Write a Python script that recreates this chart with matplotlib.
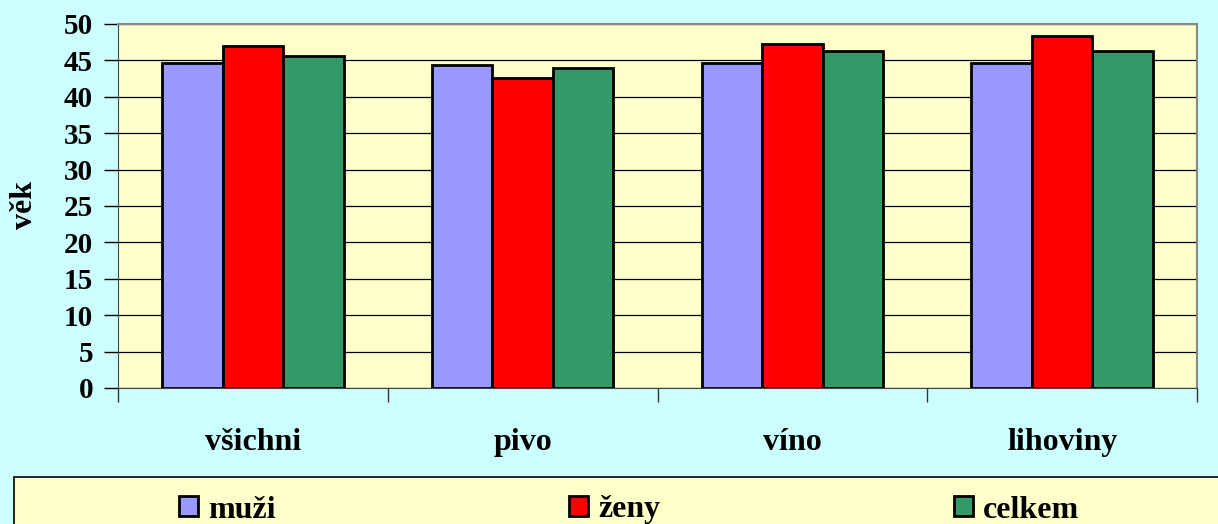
import matplotlib
matplotlib.use("Agg")
import matplotlib.pyplot as plt
import numpy as np
from matplotlib.patches import Rectangle

categories = ["všichni", "pivo", "víno", "lihoviny"]
muzi = [44.6, 44.3, 44.6, 44.6]
zeny = [47.0, 42.6, 47.3, 48.3]
celkem = [45.6, 44.0, 46.3, 46.3]
series_names = ["muži", "ženy", "celkem"]
colors = ["#9999FF", "#FF0000", "#339966"]

plt.rcParams['font.family'] = ['Liberation Serif', 'DejaVu Serif']
plt.rcParams['font.weight'] = 'bold'

fig = plt.figure(figsize=(12.18, 5.24), dpi=100, facecolor="#CCFFFF")
ax = fig.add_axes([118 / 1218, 1 - 388 / 524, (1197 - 118) / 1218, (388 - 24) / 524])
ax.set_facecolor("#FFFFCC")

x = np.arange(len(categories))
w = 0.224
for i, (vals, name, c) in enumerate(zip([muzi, zeny, celkem], series_names, colors)):
    ax.bar(x + (i - 1) * w, vals, width=w, color=c, edgecolor="black",
           linewidth=2, label=name, zorder=3)

ax.set_xlim(-0.5, len(categories) - 0.5)
ax.set_ylim(0, 50)
ax.set_yticks(range(0, 51, 5))
ax.yaxis.grid(True, color="black", linewidth=0.9, zorder=0)
ax.set_axisbelow(True)

ax.set_xticks(x)
ax.set_xticklabels(categories, fontsize=23, fontweight="bold")
ax.tick_params(axis="x", which="major", length=0, pad=29)
ax.set_xticks(np.arange(-0.5, len(categories), 1), minor=True)
ax.tick_params(axis="x", which="minor", length=10, width=1, color="#333333")
ax.tick_params(axis="y", length=10, width=1, labelsize=21, pad=8)
for lab in ax.get_yticklabels():
    lab.set_fontweight("bold")

for side in ["top", "right"]:
    ax.spines[side].set_color("#888888")
    ax.spines[side].set_linewidth(1.5)
ax.spines["left"].set_color("#444444")
ax.spines["bottom"].set_color("#444444")

fig.text(25 / 1218, 1 - 205 / 524, "věk", rotation=90, fontsize=23,
         fontweight="bold", ha="center", va="center")

fig.patches.append(Rectangle((14 / 1218, -0.05), 1.1, 0.05 + 1 - 477 / 524,
                             transform=fig.transFigure, facecolor="#FFFFCC",
                             edgecolor="black", linewidth=1.2, zorder=0))
handles, labels = ax.get_legend_handles_labels()
leg = fig.legend(handles, labels, ncol=3, loc="center",
                 bbox_to_anchor=(629 / 1218, 14 / 524), frameon=False,
                 prop={"size": 23, "weight": "bold"}, columnspacing=9.2,
                 handlelength=0.6, handleheight=0.6, handletextpad=0.3)

fig.savefig("out.png", dpi=100, facecolor=fig.get_facecolor())
